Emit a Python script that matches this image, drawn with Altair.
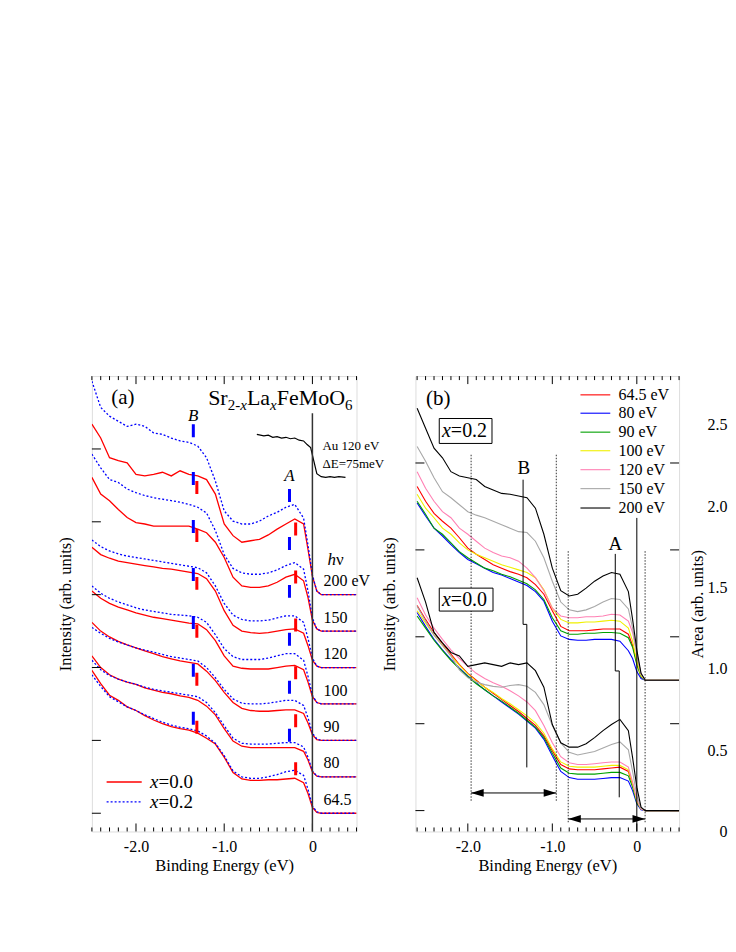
import altair as alt
import pandas as pd

FONT = "Liberation Serif"

# ================= Panel (a) data =================
E_A = [-2.5, -2.4, -2.3, -2.2, -2.1, -2.0, -1.9, -1.8, -1.7, -1.6, -1.5, -1.4, -1.3,
       -1.2, -1.1, -1.0, -0.9, -0.8, -0.7, -0.6, -0.5, -0.4, -0.3, -0.2, -0.1,
       -0.05, 0.0, 0.05, 0.1, 0.5]
HV_A = ["64.5", "80", "90", "100", "120", "150", "200"]
OFFSET_A = [0.0, 0.5, 1.0, 1.5, 2.0, 2.5, 3.0]

# x = 0.0 (red, solid), values relative to each spectrum's baseline
A_X00 = [
    [1.96, 1.78, 1.62, 1.55, 1.46, 1.41, 1.34, 1.28, 1.23, 1.19, 1.16, 1.14, 1.10, 1.03, 0.95, 0.77, 0.56, 0.47, 0.45, 0.45, 0.46, 0.46, 0.47, 0.48, 0.42, 0.27, 0.08, 0.01, 0.0, 0.0],
    [1.66, 1.50, 1.40, 1.34, 1.30, 1.27, 1.22, 1.19, 1.16, 1.14, 1.11, 1.09, 1.05, 0.97, 0.85, 0.66, 0.49, 0.42, 0.40, 0.40, 0.40, 0.40, 0.40, 0.40, 0.35, 0.23, 0.07, 0.01, 0.0, 0.0],
    [1.62, 1.50, 1.42, 1.36, 1.31, 1.27, 1.23, 1.19, 1.15, 1.12, 1.09, 1.07, 1.05, 0.95, 0.82, 0.66, 0.52, 0.44, 0.41, 0.40, 0.40, 0.41, 0.42, 0.42, 0.37, 0.24, 0.08, 0.01, 0.0, 0.0],
    [1.55, 1.45, 1.38, 1.33, 1.29, 1.25, 1.22, 1.19, 1.17, 1.15, 1.13, 1.11, 1.10, 1.02, 0.87, 0.66, 0.52, 0.49, 0.48, 0.48, 0.48, 0.50, 0.52, 0.53, 0.47, 0.30, 0.10, 0.02, 0.0, 0.0],
    [1.65, 1.55, 1.50, 1.46, 1.44, 1.42, 1.40, 1.38, 1.36, 1.35, 1.33, 1.31, 1.29, 1.22, 1.05, 0.78, 0.58, 0.50, 0.48, 0.47, 0.48, 0.50, 0.52, 0.53, 0.47, 0.30, 0.10, 0.02, 0.0, 0.0],
    [2.11, 1.88, 1.79, 1.67, 1.56, 1.49, 1.47, 1.44, 1.44, 1.44, 1.44, 1.44, 1.40, 1.35, 1.22, 1.01, 0.74, 0.62, 0.60, 0.60, 0.62, 0.67, 0.74, 0.78, 0.69, 0.46, 0.15, 0.03, 0.0, 0.0],
    [2.34, 2.15, 1.88, 1.84, 1.81, 1.65, 1.63, 1.65, 1.68, 1.63, 1.70, 1.65, 1.63, 1.58, 1.38, 0.97, 0.81, 0.72, 0.74, 0.76, 0.82, 0.90, 0.97, 1.04, 0.97, 0.62, 0.25, 0.05, 0.0, 0.0],
]
# x = 0.2 (blue, dotted)
A_X02 = [
    [1.90, 1.74, 1.60, 1.53, 1.46, 1.41, 1.35, 1.30, 1.25, 1.21, 1.18, 1.16, 1.13, 1.06, 0.96, 0.79, 0.58, 0.50, 0.48, 0.48, 0.50, 0.53, 0.57, 0.59, 0.52, 0.33, 0.10, 0.02, 0.0, 0.0],
    [1.60, 1.47, 1.39, 1.34, 1.30, 1.27, 1.23, 1.20, 1.18, 1.16, 1.14, 1.12, 1.10, 1.02, 0.88, 0.70, 0.53, 0.46, 0.45, 0.45, 0.45, 0.46, 0.47, 0.47, 0.41, 0.27, 0.08, 0.01, 0.0, 0.0],
    [1.55, 1.47, 1.40, 1.35, 1.31, 1.27, 1.24, 1.21, 1.18, 1.15, 1.13, 1.11, 1.09, 1.00, 0.86, 0.70, 0.57, 0.51, 0.50, 0.50, 0.51, 0.53, 0.55, 0.55, 0.48, 0.31, 0.10, 0.02, 0.0, 0.0],
    [1.62, 1.52, 1.45, 1.40, 1.36, 1.32, 1.29, 1.27, 1.25, 1.23, 1.22, 1.21, 1.19, 1.12, 0.95, 0.76, 0.65, 0.61, 0.61, 0.61, 0.63, 0.66, 0.69, 0.69, 0.60, 0.38, 0.12, 0.02, 0.0, 0.0],
    [1.75, 1.66, 1.60, 1.56, 1.53, 1.51, 1.49, 1.47, 1.45, 1.43, 1.41, 1.39, 1.37, 1.30, 1.12, 0.88, 0.72, 0.66, 0.64, 0.64, 0.65, 0.68, 0.71, 0.71, 0.62, 0.40, 0.13, 0.02, 0.0, 0.0],
    [2.43, 2.24, 2.08, 2.04, 1.95, 1.90, 1.86, 1.83, 1.81, 1.79, 1.77, 1.74, 1.70, 1.62, 1.38, 1.05, 0.86, 0.80, 0.78, 0.78, 0.80, 0.84, 0.90, 0.94, 0.85, 0.55, 0.18, 0.03, 0.0, 0.0],
    [2.93, 2.57, 2.45, 2.38, 2.31, 2.34, 2.31, 2.22, 2.20, 2.15, 2.11, 2.09, 2.04, 1.88, 1.56, 1.15, 1.01, 0.97, 0.97, 1.01, 1.08, 1.13, 1.20, 1.24, 1.05, 0.68, 0.27, 0.05, 0.0, 0.0],
]
# Au reference edge (120 eV)
AU_E = [-0.63, -0.55, -0.5, -0.45, -0.4, -0.35, -0.3, -0.25, -0.2, -0.15, -0.1, -0.06, -0.02, 0.015, 0.05, 0.1, 0.15, 0.2, 0.25, 0.3, 0.375]
AU_I = [5.20, 5.18, 5.19, 5.16, 5.17, 5.15, 5.16, 5.14, 5.15, 5.12, 5.11, 5.06, 5.02, 4.84, 4.66, 4.62, 4.61, 4.62, 4.61, 4.62, 4.61]

# ================= Panel (b) data =================
E_B = [-2.6, -2.5, -2.4, -2.3, -2.2, -2.1, -2.0, -1.9, -1.8, -1.7, -1.6, -1.5, -1.4, -1.3,
       -1.2, -1.1, -1.0, -0.9, -0.8, -0.7, -0.6, -0.5, -0.4, -0.3, -0.2, -0.1,
       -0.05, 0.0, 0.05, 0.1, 0.5]
HV_B = ["64.5 eV", "80 eV", "90 eV", "100 eV", "120 eV", "150 eV", "200 eV"]
COLORS_B = ["#ff0000", "#0000ff", "#00a000", "#f0f000", "#ff80b4", "#a8a8a8", "#000000"]

B_X02 = [
    [3.73, 3.56, 3.42, 3.33, 3.25, 3.14, 3.02, 2.95, 2.89, 2.83, 2.79, 2.75, 2.72, 2.68, 2.60, 2.49, 2.30, 2.12, 2.07, 2.07, 2.07, 2.08, 2.09, 2.09, 2.09, 2.03, 1.90, 1.70, 1.54, 1.50, 1.50],
    [3.54, 3.39, 3.25, 3.16, 3.06, 2.97, 2.89, 2.84, 2.79, 2.74, 2.71, 2.67, 2.63, 2.59, 2.52, 2.41, 2.18, 2.01, 1.97, 1.96, 1.96, 1.97, 1.97, 1.97, 1.95, 1.84, 1.75, 1.60, 1.52, 1.50, 1.50],
    [3.56, 3.41, 3.25, 3.18, 3.08, 2.98, 2.91, 2.85, 2.79, 2.76, 2.72, 2.69, 2.65, 2.61, 2.54, 2.43, 2.22, 2.07, 2.03, 2.03, 2.04, 2.04, 2.05, 2.05, 2.04, 1.99, 1.88, 1.68, 1.54, 1.50, 1.50],
    [3.64, 3.48, 3.37, 3.25, 3.18, 3.08, 3.00, 2.95, 2.91, 2.87, 2.83, 2.80, 2.77, 2.74, 2.68, 2.54, 2.33, 2.20, 2.16, 2.16, 2.17, 2.17, 2.18, 2.19, 2.18, 2.10, 1.95, 1.72, 1.55, 1.50, 1.50],
    [3.90, 3.71, 3.56, 3.44, 3.37, 3.25, 3.18, 3.10, 3.02, 2.97, 2.93, 2.91, 2.87, 2.79, 2.68, 2.53, 2.33, 2.24, 2.22, 2.22, 2.23, 2.23, 2.24, 2.26, 2.25, 2.18, 2.05, 1.80, 1.57, 1.50, 1.50],
    [4.19, 4.02, 3.83, 3.67, 3.60, 3.52, 3.44, 3.40, 3.37, 3.33, 3.29, 3.25, 3.21, 3.20, 3.10, 2.91, 2.64, 2.40, 2.31, 2.29, 2.31, 2.35, 2.40, 2.44, 2.43, 2.32, 2.10, 1.80, 1.57, 1.50, 1.50],
    [4.63, 4.40, 4.17, 4.06, 3.90, 3.85, 3.83, 3.81, 3.73, 3.69, 3.65, 3.64, 3.62, 3.60, 3.48, 3.18, 2.79, 2.53, 2.47, 2.49, 2.56, 2.64, 2.70, 2.74, 2.72, 2.52, 2.20, 1.85, 1.58, 1.50, 1.50],
]
B_X00 = [
    [2.36, 2.20, 2.05, 1.92, 1.80, 1.68, 1.58, 1.50, 1.42, 1.35, 1.28, 1.21, 1.14, 1.06, 0.98, 0.86, 0.69, 0.53, 0.48, 0.47, 0.47, 0.47, 0.48, 0.49, 0.50, 0.45, 0.30, 0.10, 0.02, 0.0, 0.0],
    [2.28, 2.12, 1.97, 1.85, 1.74, 1.64, 1.55, 1.47, 1.39, 1.32, 1.25, 1.18, 1.11, 1.03, 0.95, 0.82, 0.63, 0.45, 0.38, 0.36, 0.36, 0.36, 0.37, 0.38, 0.38, 0.34, 0.23, 0.08, 0.01, 0.0, 0.0],
    [2.24, 2.10, 1.96, 1.84, 1.73, 1.63, 1.54, 1.46, 1.39, 1.32, 1.26, 1.19, 1.12, 1.04, 0.96, 0.84, 0.66, 0.49, 0.43, 0.42, 0.42, 0.42, 0.43, 0.44, 0.44, 0.40, 0.27, 0.09, 0.02, 0.0, 0.0],
    [2.30, 2.16, 2.02, 1.90, 1.78, 1.67, 1.57, 1.49, 1.42, 1.36, 1.29, 1.23, 1.16, 1.09, 1.01, 0.89, 0.71, 0.56, 0.51, 0.50, 0.50, 0.50, 0.51, 0.52, 0.52, 0.47, 0.31, 0.11, 0.02, 0.0, 0.0],
    [2.45, 2.25, 2.10, 1.97, 1.85, 1.75, 1.66, 1.58, 1.52, 1.47, 1.43, 1.38, 1.32, 1.25, 1.15, 0.98, 0.78, 0.62, 0.55, 0.53, 0.53, 0.54, 0.55, 0.56, 0.56, 0.50, 0.33, 0.12, 0.02, 0.0, 0.0],
    [2.35, 2.18, 2.02, 1.90, 1.78, 1.62, 1.53, 1.48, 1.45, 1.43, 1.42, 1.44, 1.45, 1.43, 1.36, 1.22, 0.98, 0.78, 0.67, 0.64, 0.66, 0.68, 0.72, 0.76, 0.79, 0.70, 0.45, 0.17, 0.03, 0.0, 0.0],
    [2.68, 2.40, 2.05, 1.93, 1.82, 1.78, 1.66, 1.68, 1.70, 1.68, 1.66, 1.70, 1.68, 1.70, 1.61, 1.42, 0.99, 0.78, 0.73, 0.73, 0.77, 0.84, 0.92, 0.99, 1.05, 0.92, 0.61, 0.27, 0.04, 0.0, 0.0],
]
AREA_TICKS = [0.0, 0.5, 1.0, 1.5, 2.0, 2.5]

# ================= tables =================
rows = []
for i, hv in enumerate(HV_A):
    for e, r in zip(E_A, A_X00[i]):
        rows.append({"E": e, "I": OFFSET_A[i] + r, "hv": hv, "comp": "x00"})
    for e, r in zip(E_A, A_X02[i]):
        rows.append({"E": e, "I": OFFSET_A[i] + r, "hv": hv, "comp": "x02"})
dfA = pd.DataFrame(rows)
dfAu = pd.DataFrame({"E": AU_E, "I": AU_I})

rowsB = []
for i, hv in enumerate(HV_B):
    for e, v in zip(E_B, B_X02[i]):
        rowsB.append({"E": e, "I": v, "hv": hv, "grp": hv + " x02"})
    for e, v in zip(E_B, B_X00[i]):
        rowsB.append({"E": e, "I": v, "hv": hv, "grp": hv + " x00"})
dfB = pd.DataFrame(rowsB)

# ================= scales / axes =================
W_A, W_B, H = 265, 264, 456
XA = alt.Scale(domain=[-2.5, 0.5], nice=False, zero=False)
YA = alt.Scale(domain=[-0.25, 6.0], nice=False, zero=False)
XB = alt.Scale(domain=[-2.62, 0.5], nice=False, zero=False)
YB = alt.Scale(domain=[-0.24, 5.0], nice=False, zero=False)
YC = alt.Scale(domain=[0.0, 2.8], nice=False, zero=False)

X_AXIS = alt.Axis(title="Binding Energy (eV)", values=[-2, -1, 0],
                  labelExpr="datum.value == 0 ? '0' : datum.value + '.0'",
                  ticks=False, domain=False, grid=False, labelPadding=7,
                  labelFlush=False, labelFontSize=16, titleFontSize=16.5,
                  titlePadding=3, labelFont=FONT, titleFont=FONT,
                  labelColor="black", titleColor="black", titleFontWeight="normal")
Y_AXIS = alt.Axis(title="Intensity (arb. units)", labels=False, ticks=False,
                  domain=False, grid=False, titleFontSize=16.5, titleFont=FONT,
                  titleColor="black", titleFontWeight="normal", titlePadding=18)


def X(field, sc):
    return alt.X(field, type="quantitative", scale=sc, axis=X_AXIS)


def Y(field, sc):
    return alt.Y(field, type="quantitative", scale=sc, axis=Y_AXIS)


def label(x, y, text, xs, ys, size=16, italic=False, align="left", baseline="middle", dx=0, dy=0):
    d = pd.DataFrame({"x": [x], "y": [y], "t": [text]})
    return alt.Chart(d).mark_text(font=FONT, fontSize=size,
                                  fontStyle="italic" if italic else "normal",
                                  align=align, baseline=baseline, dx=dx, dy=dy,
                                  color="black").encode(
        x=X("x", xs), y=Y("y", ys), text="t:N")


def seg(x1, x2, y1, y2, xs, ys, **kw):
    d = pd.DataFrame({"x": [x1], "x2": [x2], "y": [y1], "y2": [y2]})
    return alt.Chart(d).mark_rule(**kw).encode(x=X("x", xs), x2="x2:Q", y=Y("y", ys), y2="y2:Q")


def xticks(vals, length, xs, top):
    d = pd.DataFrame({"t": vals})
    if top:
        enc = dict(y=alt.value(0), y2=alt.value(length))
    else:
        enc = dict(y=alt.value(H), y2=alt.value(H - length))
    return alt.Chart(d).mark_rule(color="black", strokeWidth=1).encode(x=X("t", xs), **enc)


def yticks(vals, ys, x0, x1):
    d = pd.DataFrame({"t": vals})
    return alt.Chart(d).mark_rule(color="black", strokeWidth=1).encode(
        y=Y("t", ys), x=alt.value(x0), x2=alt.value(x1))


# ================= Panel (a) =================
minorA = [i / 10 for i in range(-25, 6) if i % 10 != 0]
minorB = [i / 10 for i in range(-26, 6) if i % 10 != 0]
majors = [-2.0, -1.0, 0.0]

redA = alt.Chart(dfA[dfA.comp == "x00"]).mark_line(color="#ff0000", strokeWidth=1.3, clip=True).encode(
    x=X("E", XA), y=Y("I", YA), detail="hv:N")
blueA = alt.Chart(dfA[dfA.comp == "x02"]).mark_line(color="#0000ff", strokeWidth=1.3, strokeDash=[2, 2], clip=True).encode(
    x=X("E", XA), y=Y("I", YA), detail="hv:N")
auA = alt.Chart(dfAu).mark_line(color="black", strokeWidth=1.2).encode(x=X("E", XA), y=Y("I", YA))

layersA = [
    redA, blueA, auA,
    xticks(minorA, 4, XA, False), xticks(majors, 8, XA, False),
    xticks(minorA, 4, XA, True), xticks(majors, 8, XA, True),
    yticks([0, 1, 2, 3, 4, 5], YA, 0, 9),
    seg(0.0, 0.0, 5.49, -0.25, XA, YA, color="#333333", strokeWidth=1.5),
    seg(-1.35, -1.35, 5.34, 1.11, XA, YA, color="#0000ff", strokeWidth=3, strokeDash=[13, 35]),
    seg(-1.31, -1.31, 4.56, 0.82, XA, YA, color="#ff0000", strokeWidth=3, strokeDash=[13, 35]),
    seg(-0.26, -0.26, 4.45, 0.62, XA, YA, color="#0000ff", strokeWidth=3, strokeDash=[13, 35]),
    seg(-0.19, -0.19, 3.99, 0.25, XA, YA, color="#ff0000", strokeWidth=3, strokeDash=[13, 35]),
    label(-2.148, 5.70, "(a)", XA, YA, size=21, align="center"),
    label(-1.352, 5.45, "B", XA, YA, size=17, italic=True, align="center"),
    label(-0.261, 4.63, "A", XA, YA, size=17, italic=True, align="center"),
    label(0.114, 5.04, "Au 120 eV", XA, YA, size=13),
    label(0.114, 4.79, "\u0394E=75meV", XA, YA, size=13),
    label(0.170, 3.47, "h", XA, YA, size=17, italic=True),
    label(0.170, 3.47, "\u03bd", XA, YA, size=17, dx=8.5),
    # legend
    seg(-2.333, -1.935, 0.429, 0.429, XA, YA, color="#ff0000", strokeWidth=1.3),
    seg(-2.333, -1.935, 0.155, 0.155, XA, YA, color="#0000ff", strokeWidth=1.3, strokeDash=[2, 2]),
    label(-1.84, 0.429, "x", XA, YA, size=19, italic=True),
    label(-1.84, 0.429, "=0.0", XA, YA, size=19, dx=8.5),
    label(-1.84, 0.155, "x", XA, YA, size=19, italic=True),
    label(-1.84, 0.155, "=0.2", XA, YA, size=19, dx=8.5),
]
# compound title Sr(2-x)La(x)FeMoO(6)
formula = [("Sr", 0, 0, 22, False), ("2-", 19.6, 5, 15, False), ("x", 32.1, 5, 15, True),
           ("La", 38.8, 0, 22, False), ("x", 62.0, 5, 15, True),
           ("FeMoO", 68.7, 0, 22, False), ("6", 137.1, 5, 15, False)]
for t, dx, dy, sz, it in formula:
    layersA.append(label(-1.182, 5.603, t, XA, YA, size=sz, italic=it, baseline="alphabetic", dx=dx, dy=dy))
for t, v in zip(["200 eV", "150", "120", "100", "90", "80", "64.5"],
                [3.19, 2.68, 2.19, 1.68, 1.18, 0.685, 0.18]):
    layersA.append(label(0.125, v, t, XA, YA, size=16))

panelA = alt.layer(*layersA).properties(width=W_A, height=H)

# ================= Panel (b) =================
colB = alt.Color("hv:N", scale=alt.Scale(domain=HV_B, range=COLORS_B), legend=None)
curvesB = alt.Chart(dfB).mark_line(strokeWidth=1.1, clip=True).encode(
    x=X("E", XB), y=Y("I", YB), color=colB, detail="grp:N")

legB = pd.DataFrame({"hv": HV_B, "x1": [-0.667] * 7, "x2": [-0.314] * 7, "tx": [-0.216] * 7,
                     "y": [4.784, 4.573, 4.355, 4.141, 3.923, 3.705, 3.482]})
legLines = alt.Chart(legB).mark_rule(strokeWidth=1.1).encode(
    x=X("x1", XB), x2="x2:Q", y=Y("y", YB), color=colB)
legText = alt.Chart(legB).mark_text(font=FONT, fontSize=16, align="left", baseline="middle", color="black").encode(
    x=X("tx", XB), y=Y("y", YB), text="hv:N")

stepB = pd.DataFrame({"E": [-1.346, -1.346, -1.302, -1.302], "I": [3.808, 2.143, 2.143, 0.497], "k": [0, 1, 2, 3]})
stepA = pd.DataFrame({"E": [-0.255, -0.255, -0.208, -0.208], "I": [2.954, 1.607, 1.607, 0.153], "k": [0, 1, 2, 3]})


def step_line(d):
    return alt.Chart(d).mark_line(color="black", strokeWidth=1).encode(
        x=X("E", XB), y=Y("I", YB), order="k:Q")


def arrow_head(e, v, left):
    shape = "M0,0L1.8,-0.55L1.8,0.55Z" if left else "M0,0L-1.8,-0.55L-1.8,0.55Z"
    d = pd.DataFrame({"E": [e], "I": [v]})
    return alt.Chart(d).mark_point(shape=shape, size=196, filled=True, color="black", opacity=1, strokeWidth=0).encode(
        x=X("E", XB), y=Y("I", YB))


def box(x1, x2, y1, y2):
    d = pd.DataFrame({"x": [x1], "x2": [x2], "y": [y1], "y2": [y2]})
    return alt.Chart(d).mark_rect(fill="white", stroke="black", strokeWidth=1).encode(
        x=X("x", XB), x2="x2:Q", y=Y("y", YB), y2="y2:Q")


layersB = [
    curvesB,
    xticks(minorB, 4, XB, False), xticks(majors, 8, XB, False),
    xticks(minorB, 4, XB, True), xticks(majors, 8, XB, True),
    yticks([0, 1, 2, 3, 4], YB, 0, 9),
    yticks([0, 1, 2, 3, 4], YB, W_B, W_B - 9),
    seg(-1.961, -1.961, 4.095, 0.096, XB, YB, color="black", strokeWidth=0.8, strokeDash=[1.5, 1.5]),
    seg(-0.953, -0.953, 4.095, 0.096, XB, YB, color="black", strokeWidth=0.8, strokeDash=[1.5, 1.5]),
    seg(-0.812, -0.812, 2.985, -0.134, XB, YB, color="black", strokeWidth=0.8, strokeDash=[1.5, 1.5]),
    seg(0.098, 0.098, 2.985, -0.134, XB, YB, color="black", strokeWidth=0.8, strokeDash=[1.5, 1.5]),
    seg(0.0, 0.0, 3.368, -0.24, XB, YB, color="black", strokeWidth=1),
    step_line(stepB), step_line(stepA),
    seg(-1.961, -0.953, 0.203, 0.203, XB, YB, color="black", strokeWidth=1),
    seg(-0.812, 0.098, -0.096, -0.096, XB, YB, color="black", strokeWidth=1),
    arrow_head(-1.961, 0.203, True), arrow_head(-0.953, 0.203, False),
    arrow_head(-0.812, -0.096, True), arrow_head(0.098, -0.096, False),
    box(-2.338, -1.714, 4.225, 4.512), box(-2.338, -1.702, 2.296, 2.560),
    label(-2.307, 4.363, "x", XB, YB, size=20, italic=True),
    label(-2.307, 4.363, "=0.2", XB, YB, size=20, dx=9),
    label(-2.307, 2.428, "x", XB, YB, size=20, italic=True),
    label(-2.307, 2.428, "=0.0", XB, YB, size=20, dx=9),
    label(-2.349, 4.742, "(b)", XB, YB, size=21, align="center"),
    label(-1.337, 3.938, "B", XB, YB, size=19, align="center"),
    label(-0.255, 3.065, "A", XB, YB, size=19, align="center"),
    legLines, legText,
]
mainB = alt.layer(*layersB)

areaAxis = alt.Axis(orient="right", title="Area (arb. units)", values=AREA_TICKS,
                    labelExpr="datum.value == 0 ? '0' : format(datum.value, '.1f')",
                    ticks=False, domain=False, grid=False, labelAlign="right",
                    labelPadding=48, labelFontSize=16, labelFont=FONT, labelColor="black",
                    titleFont=FONT, titleFontSize=16.5, titleColor="black", titleFontWeight="normal",
                    titleAngle=270, titleX=18, titleY=228, titleAlign="center", titleBaseline="middle")
areaLayer = alt.Chart(pd.DataFrame({"a": AREA_TICKS})).mark_point(opacity=0).encode(
    y=alt.Y("a", type="quantitative", scale=YC, axis=areaAxis))

panelB = alt.layer(mainB, areaLayer).resolve_scale(y="independent").properties(width=W_B, height=H)

chart = alt.hconcat(panelA, panelB, spacing=59, bounds="flush").resolve_scale(
    x="independent", y="independent", color="independent"
).properties(
    padding={"left": 49, "top": 367, "right": 0, "bottom": 5}, background="white"
).configure_view(stroke="black", strokeWidth=1.3).configure(font=FONT).configure_axis(
    labelFont=FONT, titleFont=FONT
).configure_text(font=FONT)

chart.save("out.html", embed_options={"renderer": "svg", "actions": False})
